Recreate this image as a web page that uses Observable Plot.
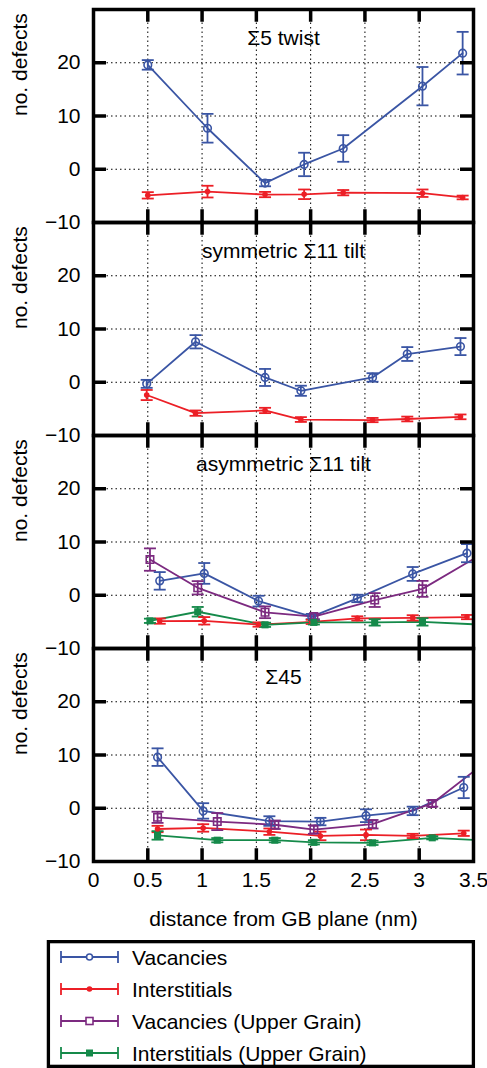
<!DOCTYPE html>
<html><head><meta charset="utf-8">
<script src="https://cdn.jsdelivr.net/npm/d3@7"></script>
<script src="https://cdn.jsdelivr.net/npm/@observablehq/plot@0.6"></script>
<style>
body{margin:0;background:#fff;font-family:"Liberation Sans",Arial,sans-serif;}
#wrap{position:relative;width:487px;height:1068px;overflow:hidden;}
#chart{position:absolute;left:0;top:0;}
#legend{position:absolute;left:0;top:940px;}
</style></head><body><div id="wrap"><div id="chart"></div><div id="legend"></div></div>
<script>
// ---- data ----
const panels = ["Σ5 twist", "symmetric Σ11 tilt", "asymmetric Σ11 tilt", "Σ45"];
const seriesNames = ["Vacancies", "Interstitials", "Vacancies (Upper Grain)", "Interstitials (Upper Grain)"];
const colors = ["#3a55a4", "#ec1f26", "#7c2a80", "#158a4a"];
const xTicks = [0, 0.5, 1, 1.5, 2, 2.5, 3, 3.5];
const xGrid = [0.5, 1, 1.5, 2, 2.5, 3];
const yTicks = [-10, 0, 10, 20];
const yGrid = [0, 10, 20];

// Σ5 twist
const s5X = [0.50, 1.05, 1.58, 1.94, 2.30, 3.03, 3.40];
const s5VacY = [19.6, 7.7, -2.6, 0.9, 3.9, 15.6, 21.8];
const s5VacE = [0.9, 2.7, 0.6, 2.2, 2.5, 3.6, 4.0];
const s5IntY = [-4.9, -4.2, -4.75, -4.7, -4.4, -4.5, -5.3];
const s5IntE = [0.6, 1.1, 0.5, 0.9, 0.5, 0.7, 0.35];
// symmetric Σ11 tilt
const s11X = [0.49, 0.94, 1.58, 1.91, 2.57, 2.89, 3.38];
const s11VacY = [-0.3, 7.6, 0.9, -1.6, 0.9, 5.3, 6.7];
const s11VacE = [0.75, 1.25, 1.6, 0.95, 0.8, 1.3, 1.6];
const s11IntY = [-2.4, -5.8, -5.3, -7.0, -7.1, -6.9, -6.5];
const s11IntE = [0.95, 0.5, 0.5, 0.45, 0.4, 0.45, 0.45];
// asymmetric Σ11 tilt
const a11X = [0.61, 1.02, 1.52, 2.01, 2.43, 2.94, 3.44];
const a11VacY = [2.7, 4.1, -1.1, -4.0, -0.6, 4.0, 7.9];
const a11VacE = [1.65, 1.95, 1.0, 0.5, 0.7, 1.3, 1.7];
const a11IntY = [-4.85, -4.8, -5.5, -5.0, -4.35, -4.25, -4.1];
const a11IntE = [0.5, 0.7, 0.4, 0.4, 0.4, 0.5, 0.4];
const a11UX = [0.52, 0.96, 1.58, 2.03, 2.59, 3.03, 3.60];
const a11UVacY = [6.7, 1.4, -3.2, -4.0, -0.9, 1.2, 8.0];
const a11UVacE = [2.1, 1.25, 1.1, 0.5, 1.3, 1.5, 1.5];
const a11UIntY = [-4.8, -3.1, -5.55, -5.1, -5.1, -5.0, -5.55];
const a11UIntE = [0.4, 0.9, 0.4, 0.4, 0.6, 0.7, 0.5];
// Σ45
const s45X = [0.59, 1.01, 1.62, 2.09, 2.51, 2.94, 3.41];
const s45VacY = [9.6, -0.5, -2.4, -2.5, -1.4, -0.5, 3.9];
const s45VacE = [1.65, 1.45, 0.9, 0.7, 1.2, 0.8, 2.0];
const s45IntY = [-3.9, -3.7, -4.4, -5.2, -5.0, -5.2, -4.7];
const s45IntE = [0.6, 0.7, 0.6, 0.8, 1.0, 0.4, 0.5];
const s45UX = [0.59, 1.14, 1.67, 2.03, 2.57, 3.12, 3.60];
const s45UVacY = [-1.7, -2.5, -3.1, -4.0, -3.0, 0.9, 8.5];
const s45UVacE = [1.05, 1.6, 0.8, 0.8, 0.8, 0.6, 1.5];
const s45UIntY = [-5.1, -6.0, -6.0, -6.4, -6.5, -5.55, -6.05];
const s45UIntE = [0.8, 0.4, 0.4, 0.4, 0.4, 0.3, 0.4];

// ---- build table ----
function rows(panel, s, xs, ys, es) {
  return xs.map((x, i) => ({panel: panels[panel], series: seriesNames[s], x, y: ys[i], e: es[i]}));
}
const data = [
  ...rows(0, 0, s5X, s5VacY, s5VacE), ...rows(0, 1, s5X, s5IntY, s5IntE),
  ...rows(1, 0, s11X, s11VacY, s11VacE), ...rows(1, 1, s11X, s11IntY, s11IntE),
  ...rows(2, 0, a11X, a11VacY, a11VacE), ...rows(2, 1, a11X, a11IntY, a11IntE),
  ...rows(2, 2, a11UX, a11UVacY, a11UVacE), ...rows(2, 3, a11UX, a11UIntY, a11UIntE),
  ...rows(3, 0, s45X, s45VacY, s45VacE), ...rows(3, 1, s45X, s45IntY, s45IntE),
  ...rows(3, 2, s45UX, s45UVacY, s45UVacE), ...rows(3, 3, s45UX, s45UIntY, s45UIntE)
];
const bySeries = (k) => data.filter(d => d.series === seriesNames[k]);

// ---- layout ----
const W = 487, H = 940, mT = 8, mB = 79, mL = 93, mR = 14;
const panelH = (H - mT - mB) / panels.length;
const frameW = W - mL - mR;
const tickLen = 13;
const font = '"Liberation Sans", Arial, Helvetica, sans-serif';
const capSymbol = {draw(ctx) { ctx.moveTo(-6, 0); ctx.lineTo(6, 0); }};
const common = {x: "x", fy: "panel", clip: true};
const tickStyle = {stroke: "black", strokeWidth: 3.5};
const gridStyle = {stroke: "black", strokeOpacity: 1, strokeWidth: 1, strokeDasharray: "1.5,3"};

const chart = Plot.plot({
  width: W, height: H,
  marginTop: mT, marginBottom: mB, marginLeft: mL, marginRight: mR,
  style: {fontFamily: font, fontSize: "21px", color: "black", background: "white", overflow: "visible"},
  x: {domain: [0, 3.5]},
  y: {domain: [-10, 30]},
  fy: {domain: panels, padding: 0, axis: null},
  color: {domain: seriesNames, range: colors},
  marks: [
    Plot.gridX(xGrid, gridStyle),
    Plot.gridY(yGrid, gridStyle),
    Plot.line(data, {...common, y: "y", z: "series", stroke: "series", strokeWidth: 1.8}),
    Plot.ruleX(data, {...common, y1: d => d.y - d.e, y2: d => d.y + d.e, stroke: "series", strokeWidth: 1.8}),
    Plot.dot(data, {...common, y: d => d.y - d.e, symbol: capSymbol, stroke: "series", strokeWidth: 1.8, fill: "none"}),
    Plot.dot(data, {...common, y: d => d.y + d.e, symbol: capSymbol, stroke: "series", strokeWidth: 1.8, fill: "none"}),
    Plot.dot(bySeries(0), {...common, y: "y", r: 3.8, stroke: "series", strokeWidth: 1.6, fill: "none"}),
    Plot.dot(bySeries(1), {...common, y: "y", r: 2.8, fill: "series", stroke: "none"}),
    Plot.dot(bySeries(2), {...common, y: "y", r: 4.2, symbol: "square", stroke: "series", strokeWidth: 1.6, fill: "none"}),
    Plot.dot(bySeries(3), {...common, y: "y", r: 4.0, symbol: "square", fill: "series", stroke: "none"}),
    Plot.ruleX(xGrid, {...tickStyle, insetTop: panelH - tickLen}),
    Plot.ruleX(xGrid, {...tickStyle, insetBottom: panelH - tickLen}),
    Plot.ruleY(yGrid, {...tickStyle, insetRight: frameW - tickLen}),
    Plot.ruleY(yGrid, {...tickStyle, insetLeft: frameW - tickLen}),
    Plot.frame({stroke: "black", strokeWidth: 3.5}),
    Plot.axisY(yTicks, {tickSize: 0, tickPadding: 13, label: null, fontSize: 21}),
    Plot.axisX(xTicks, {tickSize: 0, tickPadding: 11, fontSize: 21, tickFormat: d => String(d),
      label: "distance from GB plane (nm)", labelAnchor: "center", labelArrow: "none", labelOffset: 64}),
    Plot.text(panels, {fy: d => d, text: d => d, frameAnchor: "top", lineAnchor: "middle", dy: 28.5, fontSize: 21}),
    Plot.text(panels, {fy: d => d, text: () => "no. defects", frameAnchor: "left", rotate: -90, dx: -73, fontSize: 21})
  ]
});
document.getElementById("chart").append(chart);

// ---- legend ----
const lg = d3.select("#legend").append("svg")
  .attr("width", W).attr("height", 128)
  .style("font-family", font).style("font-size", "21px");
lg.append("rect").attr("x", 48.4).attr("y", 1.65).attr("width", 425).attr("height", 124.7)
  .attr("fill", "white").attr("stroke", "black").attr("stroke-width", 3.3);
seriesNames.forEach((name, i) => {
  const cy = 17 + i * 32;
  const g = lg.append("g").attr("stroke", colors[i]).attr("stroke-width", 1.8);
  g.append("line").attr("x1", 61).attr("x2", 118).attr("y1", cy).attr("y2", cy);
  g.append("line").attr("x1", 61).attr("x2", 61).attr("y1", cy - 6).attr("y2", cy + 6);
  g.append("line").attr("x1", 118).attr("x2", 118).attr("y1", cy - 6).attr("y2", cy + 6);
  const filled = i % 2 === 1;
  if (i < 2) {
    g.append("circle").attr("cx", 89.5).attr("cy", cy).attr("r", filled ? 2.8 : 3)
      .attr("fill", filled ? colors[i] : "white").attr("stroke", filled ? "none" : colors[i]).attr("stroke-width", 1.6);
  } else {
    g.append("rect").attr("x", 86).attr("y", cy - 3.5).attr("width", 7).attr("height", 7)
      .attr("fill", filled ? colors[i] : "white").attr("stroke", filled ? "none" : colors[i]).attr("stroke-width", 1.6);
  }
  lg.append("text").attr("x", 132).attr("y", cy + 7.5).attr("fill", "black").text(name);
});
</script>
</body></html>
